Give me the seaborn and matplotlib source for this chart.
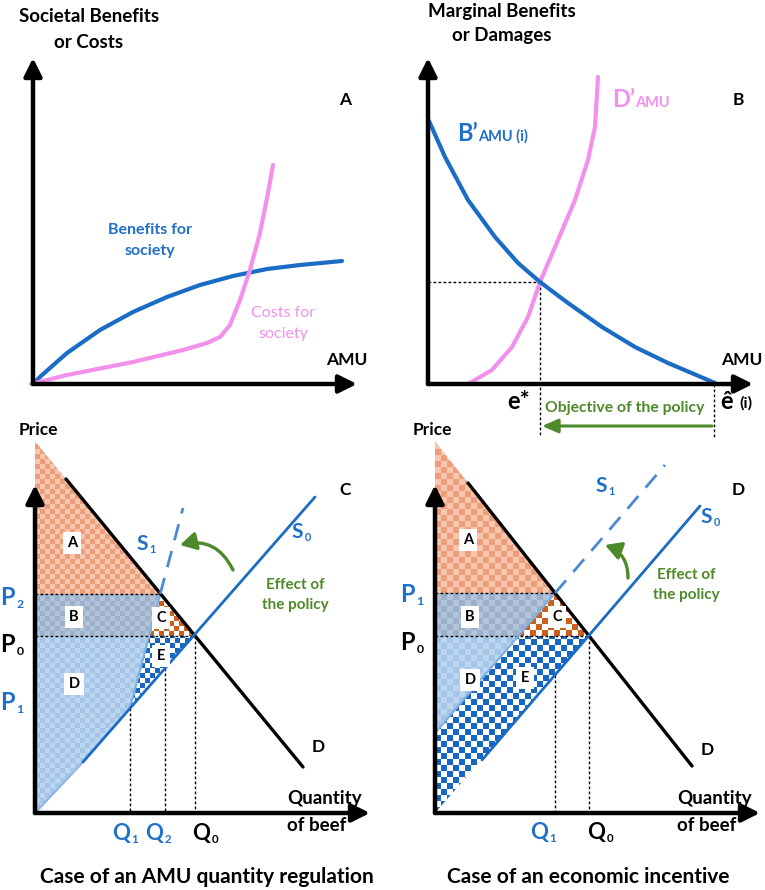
import numpy as np
import matplotlib
matplotlib.use("Agg")
import matplotlib.pyplot as plt
import seaborn as sns
from matplotlib.patches import Polygon
from matplotlib.colors import ListedColormap

# ---------------- data (arbitrary units) -------------
# Panel A: total benefits / costs of AMU
benefit_amu = [0, 8, 17, 34, 67, 100, 134, 167, 200, 234, 267, 309]
benefit_val = [0, 8, 16, 31, 54, 72, 87, 99, 108, 115, 119, 123]
cost_amu = [-2, 34, 100, 150, 174, 187, 197, 207, 217, 227, 235, 240]
cost_val = [0, 9, 22, 34, 41, 47, 59, 84, 114, 151, 191, 219]

# Panel B: marginal benefits / damages
mb_amu = [1, 17, 40, 67, 90, 112, 140, 174, 207, 240, 287]
mb_val = [263, 227, 184, 147, 121, 102, 81, 57, 37, 21, 1]
md_amu = [40, 64, 84, 100, 112, 130, 147, 160, 167, 170]
md_val = [0, 14, 37, 67, 102, 144, 184, 224, 257, 307]
e_star = 112
mb_star = 102
e_hat = 286

# Panel C: AMU quantity regulation
c_demand_q = [31, 268]
c_demand_p = [334, 46]
c_s0_q = [48, 280]
c_s0_p = [51, 316]
c_s1_q = [95, 148]
c_s1_p = [105, 305]
c_quantities = [95, 130, 160]          # Q1, Q2, Q0
c_q_labels = ["1", "2", "0"]
c_prices = [105, 177, 219]             # P1, P0, P2
c_p_labels = ["1", "0", "2"]

# Panel D: economic incentive
d_demand_q = [33, 257]
d_demand_p = [330, 47]
d_s0_q = [47, 265]
d_s0_p = [53, 307]
d_s1_q = [0, 230]
d_s1_p = [80, 348]
d_quantities = [120, 154]              # Q1, Q0
d_q_labels = ["1", "0"]
d_prices = [177, 220]                  # P0, P1
d_p_labels = ["0", "1"]

# ---------------- style -------------------------------------------------------
sns.set_theme(style="white")
plt.rcParams["font.family"] = ["Lato", "DejaVu Sans"]

BLUE = "#1A6CC4"
TBLUE = "#1F70C8"
PINK = "#F290EC"
GREEN = "#4E8A2A"
A_COL = ("#F7C6AE", "#EE9D7B")
B_COL = ("#B0C4DC", "#9EB0C9")
D_COL = ("#BDD6EF", "#A5C5E8")
C_COL = ("#CD5F1A", "#FFFFFF")
E_COL = ("#1666C2", "#FFFFFF")

W, H = 765, 890
fig = plt.figure(figsize=(W / 100, H / 100), dpi=100)


def make_panel(box, origin):
    x0, y0, x1, y1 = box
    ox, oy = origin
    ax = fig.add_axes([x0 / W, 1 - y1 / H, (x1 - x0) / W, (y1 - y0) / H])
    ax.set_xlim(x0 - ox, x1 - ox)
    ax.set_ylim(oy - y1, oy - y0)
    ax.set_autoscale_on(False)
    ax.axis("off")
    return ax, (x0 - ox, x1 - ox), (oy - y1, oy - y0)


def axis_arrows(ax, xmax, ymax):
    for tip in [(xmax, 0), (0, ymax)]:
        ax.annotate("", xy=tip, xytext=(0, 0),
                    arrowprops=dict(arrowstyle="-|>,head_length=0.9,head_width=0.45",
                                    lw=3.2, color="black", shrinkA=0, shrinkB=0),
                    annotation_clip=False, zorder=6)


def line(ax, xs, ys, color, lw, **kw):
    sns.lineplot(x=list(xs), y=list(ys), ax=ax, color=color, linewidth=lw,
                 sort=False, estimator=None, legend=False, **kw)


def dotted(ax, xs, ys):
    ax.plot(xs, ys, color="black", lw=1.0, ls=(0, (2, 1.6)), zorder=3, clip_on=False)


def checker(ax, pts, cols, cell, zorder=1, alpha=1.0):
    pts = np.asarray(pts, float)
    poly = Polygon(pts, closed=True, fc="none", ec="none")
    ax.add_patch(poly)
    x0, y0 = pts.min(axis=0)
    x1, y1 = pts.max(axis=0)
    nx = int(np.ceil((x1 - x0) / cell)) + 1
    ny = int(np.ceil((y1 - y0) / cell)) + 1
    ii, jj = np.indices((ny, nx))
    board = (ii + jj) % 2
    im = ax.imshow(board, cmap=ListedColormap(list(cols)), vmin=0, vmax=1,
                   extent=(x0, x0 + nx * cell, y0, y0 + ny * cell), origin="lower",
                   interpolation="nearest", aspect="auto", zorder=zorder, alpha=alpha)
    im.set_clip_path(poly)


def x_at(qs, ps, p):
    return qs[0] + (p - ps[0]) * (qs[1] - qs[0]) / (ps[1] - ps[0])


def y_at(qs, ps, q):
    return ps[0] + (q - qs[0]) * (ps[1] - ps[0]) / (qs[1] - qs[0])


def region_label(ax, x, y, s):
    ax.text(x, y, s, ha="center", va="center", fontsize=10.5, fontweight="bold",
            color="black", zorder=5,
            bbox=dict(boxstyle="square,pad=0.3", fc="white", ec="none"))


def sym(ax, x, y, main, sub, color, size=16):
    """main letter right-aligned at x (baseline y) with a small subscript after it"""
    ax.text(x, y, main, color=color, fontsize=size, fontweight="bold",
            ha="right", va="baseline", zorder=5)
    ax.text(x + 1.5, y - 3, sub, color=color, fontsize=size * 0.52, fontweight="bold",
            ha="left", va="baseline", zorder=5)


def bold(ax, x, y, s, size, color="black", ha="center", va="center", weight="bold"):
    ax.text(x, y, s, ha=ha, va=va, fontsize=size, fontweight=weight, color=color, zorder=7)


# ================= Panel A =================
axA, xl, yl = make_panel((0, 0, 382, 415), (33, 384))
line(axA, benefit_amu, benefit_val, BLUE, 3.0, zorder=3)
line(axA, cost_amu, cost_val, PINK, 3.0, zorder=3)
axis_arrows(axA, 324, 326)
bold(axA, 56, 367, "Societal Benefits", 13.5)
bold(axA, 56, 342, "or Costs", 13.5)
bold(axA, 312, 284, "A", 12.5)
bold(axA, 117, 154, "Benefits for", 11.5, TBLUE)
bold(axA, 117, 133, "society", 11.5, TBLUE)
bold(axA, 250, 71, "Costs for", 11.5, PINK, weight="normal")
bold(axA, 250, 50, "society", 11.5, PINK, weight="normal")
bold(axA, 314, 24, "AMU", 12.5)
axA.set_xlim(*xl); axA.set_ylim(*yl)

# ================= Panel B =================
axB, xl, yl = make_panel((382, 0, 765, 415), (428, 384))
dotted(axB, [0, e_star], [mb_star, mb_star])
dotted(axB, [e_star, e_star], [mb_star, -53])
dotted(axB, [e_hat, e_hat], [0, -53])
line(axB, mb_amu, mb_val, BLUE, 3.0, zorder=4)
line(axB, md_amu, md_val, PINK, 3.0, zorder=3)
axis_arrows(axB, 325, 326)
axB.annotate("", xy=(e_star + 2, -42), xytext=(e_hat - 2, -42),
             arrowprops=dict(arrowstyle="-|>,head_length=0.8,head_width=0.35",
                             lw=2.2, color=GREEN, shrinkA=0, shrinkB=0),
             annotation_clip=False, zorder=6)
bold(axB, 74, 373, "Marginal Benefits", 13.5)
bold(axB, 74, 348, "or Damages", 13.5)
bold(axB, 310, 284, "B", 12.5)
axB.text(29, 243, "B\u2019", ha="left", va="baseline", fontsize=17, fontweight="bold", color=TBLUE)
axB.text(50, 243, "AMU (i)", ha="left", va="baseline", fontsize=10.5, fontweight="bold", color=TBLUE)
axB.text(184, 277, "D\u2019", ha="left", va="baseline", fontsize=17, fontweight="bold", color=PINK)
axB.text(207, 277, "AMU", ha="left", va="baseline", fontsize=10.5, fontweight="bold", color=PINK)
bold(axB, 314, 24, "AMU", 12.5)
bold(axB, 91, -18, "e*", 17)
bold(axB, 299, -18, "\u00ea", 17)
bold(axB, 318, -19, "(i)", 11.5)
bold(axB, 197, -24, "Objective of the policy", 11.3, GREEN)
axB.set_xlim(*xl); axB.set_ylim(*yl)

# ================= Panel C =================
axC, xl, yl = make_panel((0, 415, 382, 890), (35, 813))
Q1, Q2, Q0 = c_quantities
P1, P0, P2 = c_prices
d_top = y_at(c_demand_q, c_demand_p, 0)
q_p2 = x_at(c_s1_q, c_s1_p, P2)
q_s1_p0 = x_at(c_s1_q, c_s1_p, P0)
s0_q1 = y_at(c_s0_q, c_s0_p, Q1)
s0_q2 = y_at(c_s0_q, c_s0_p, Q2)
checker(axC, [(0, d_top), (q_p2, P2), (0, P2)], A_COL, 5)
checker(axC, [(0, P2), (q_p2, P2), (q_s1_p0, P0), (0, P0)], B_COL, 5)
checker(axC, [(q_p2, P2), (Q0, P0), (q_s1_p0, P0)], C_COL, 5)
checker(axC, [(0, P0), (q_s1_p0, P0), (Q1, s0_q1), (0, 0)], D_COL, 5)
checker(axC, [(q_s1_p0, P0), (Q0, P0), (Q1, s0_q1)], E_COL, 5)
dotted(axC, [0, q_p2], [P2, P2])
dotted(axC, [0, Q0], [P0, P0])
dotted(axC, [Q1, Q1], [s0_q1, 0])
dotted(axC, [Q2, Q2], [s0_q2, 0])
dotted(axC, [Q0, Q0], [P0, 0])
line(axC, c_demand_q, c_demand_p, "black", 2.4, zorder=4)
line(axC, [0, c_s0_q[0]], [0, c_s0_p[0]], "#8DB6E6", 1.6, zorder=3)
line(axC, c_s0_q, c_s0_p, BLUE, 2.0, zorder=4)
line(axC, [c_s1_q[0], q_p2], [c_s1_p[0], P2], "#7FAEE3", 1.6, zorder=3)
axC.plot([q_p2, c_s1_q[1]], [P2, c_s1_p[1]], color="#4A8AD4", lw=2.0,
         ls=(0, (6, 4)), zorder=4)
axis_arrows(axC, 335, 328)
axC.annotate("", xy=(145, 268), xytext=(198, 243),
             arrowprops=dict(arrowstyle="-|>,head_length=0.8,head_width=0.45",
                             connectionstyle="arc3,rad=0.4",
                             lw=2.4, color=GREEN, shrinkA=0, shrinkB=0), zorder=6)
region_label(axC, 37, 270, "A")
region_label(axC, 39, 196, "B")
region_label(axC, 39, 129, "D")
region_label(axC, 126, 195, "C")
region_label(axC, 126, 157, "E")
bold(axC, 3, 383, "Price", 12.5)
sym(axC, 113, 263, "S", "1", TBLUE, 15)
sym(axC, 268, 275, "S", "0", TBLUE, 15)
bold(axC, 310, 323, "C", 12.5)
bold(axC, 283, 66, "D", 12.5)
bold(axC, 260, 228, "Effect of", 11, GREEN)
bold(axC, 260, 208, "the policy", 11, GREEN)
c_plabel_base = [103, 161, 208]
c_plabel_col = [TBLUE, "black", TBLUE]
for yb, lab, col in zip(c_plabel_base, c_p_labels, c_plabel_col):
    sym(axC, -20, yb, "P", lab, col, 17)
c_qlabel_right = [95, 128, 175]
c_qlabel_col = [TBLUE, TBLUE, "black"]
for xr, lab, col in zip(c_qlabel_right, c_q_labels, c_qlabel_col):
    sym(axC, xr, -27, "Q", lab, col, 16)
bold(axC, 252, 9, "Quantity", 13.5, ha="left", va="baseline")
bold(axC, 252, -18, "of beef", 13.5, ha="left", va="baseline")
bold(axC, 172, -64, "Case of an AMU quantity regulation", 15)
axC.set_xlim(*xl); axC.set_ylim(*yl)

# ================= Panel D =================
axD, xl, yl = make_panel((382, 415, 765, 890), (435, 813))
dQ1, dQ0 = d_quantities
dP0, dP1 = d_prices
dd_top = y_at(d_demand_q, d_demand_p, 0)
dq_p1 = x_at(d_s1_q, d_s1_p, dP1)
dq_s1_p0 = x_at(d_s1_q, d_s1_p, dP0)
ds1_0 = d_s1_p[0]
ds0_0 = max(y_at(d_s0_q, d_s0_p, 0), 0)
ds0_q1 = y_at(d_s0_q, d_s0_p, dQ1)
checker(axD, [(0, dd_top), (dq_p1, dP1), (0, dP1)], A_COL, 6)
checker(axD, [(0, dP1), (dq_p1, dP1), (dq_s1_p0, dP0), (0, dP0)], B_COL, 6)
checker(axD, [(dq_p1, dP1), (dQ0, dP0), (dq_s1_p0, dP0)], C_COL, 6)
checker(axD, [(0, dP0), (dq_s1_p0, dP0), (0, ds1_0)], D_COL, 6)
checker(axD, [(0, ds1_0), (dq_s1_p0, dP0), (dQ0, dP0), (0, ds0_0)], E_COL, 6)
dotted(axD, [0, dq_p1], [dP1, dP1])
dotted(axD, [0, dQ0], [dP0, dP0])
dotted(axD, [dQ1, dQ1], [ds0_q1, 0])
dotted(axD, [dQ0, dQ0], [dP0, 0])
line(axD, d_demand_q, d_demand_p, "black", 2.4, zorder=4)
line(axD, d_s0_q, d_s0_p, BLUE, 2.0, zorder=4)
line(axD, [0, dq_p1], [ds1_0, dP1], "#7FAEE3", 1.6, zorder=3)
axD.plot([dq_p1, d_s1_q[1]], [dP1, d_s1_p[1]], color="#4A8AD4", lw=2.0,
         ls=(0, (6, 4)), zorder=4)
axis_arrows(axD, 325, 328)
axD.annotate("", xy=(170, 268), xytext=(193, 235),
             arrowprops=dict(arrowstyle="-|>,head_length=0.8,head_width=0.45",
                             connectionstyle="arc3,rad=0.35",
                             lw=2.4, color=GREEN, shrinkA=0, shrinkB=0), zorder=6)
region_label(axD, 33, 273, "A")
region_label(axD, 35, 196, "B")
region_label(axD, 35, 133, "D")
region_label(axD, 122, 196, "C")
region_label(axD, 90, 135, "E")
bold(axD, -3, 383, "Price", 12.5)
sym(axD, 172, 321, "S", "1", TBLUE, 15)
sym(axD, 277, 290, "S", "0", TBLUE, 15)
bold(axD, 303, 323, "D", 12.5)
bold(axD, 272, 63, "D", 12.5)
bold(axD, 251, 238, "Effect of", 11, GREEN)
bold(axD, 251, 218, "the policy", 11, GREEN)
d_plabel_base = [163, 211]
d_plabel_col = ["black", TBLUE]
for yb, lab, col in zip(d_plabel_base, d_p_labels, d_plabel_col):
    sym(axD, -20, yb, "P", lab, col, 17)
d_qlabel_right = [113, 170]
d_qlabel_col = [TBLUE, "black"]
for xr, lab, col in zip(d_qlabel_right, d_q_labels, d_qlabel_col):
    sym(axD, xr, -26, "Q", lab, col, 16)
bold(axD, 242, 9, "Quantity", 13.5, ha="left", va="baseline")
bold(axD, 242, -18, "of beef", 13.5, ha="left", va="baseline")
bold(axD, 153, -64, "Case of an economic incentive", 15)
axD.set_xlim(*xl); axD.set_ylim(*yl)

fig.savefig("out.png", dpi=100)
